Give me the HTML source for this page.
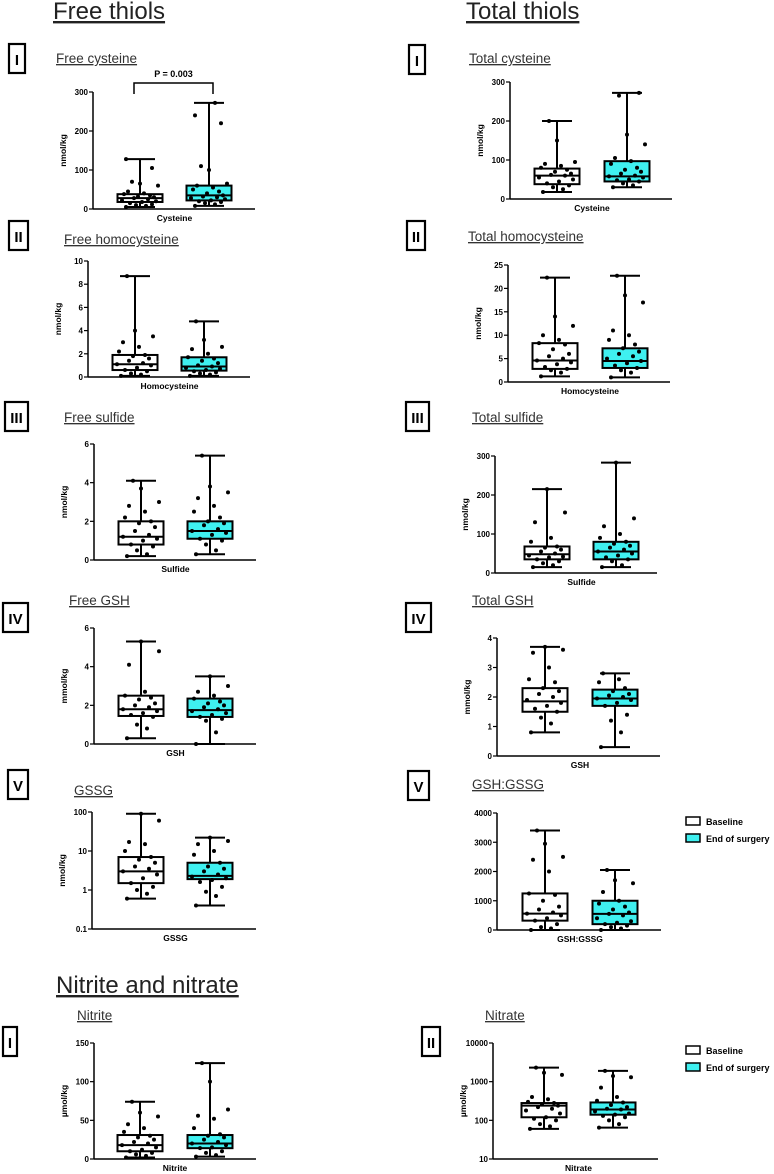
<!DOCTYPE html>
<html><head><meta charset="utf-8"><style>
body{margin:0;background:#fff;width:774px;height:1174px;overflow:hidden;font-family:"Liberation Sans",sans-serif}
svg{position:absolute;left:0;top:0}
</style></head><body>
<svg id="fig" width="774" height="1174" xmlns="http://www.w3.org/2000/svg" font-family="Liberation Sans, sans-serif">
<text x="53" y="19" font-size="24" text-decoration="underline" fill="#222">Free thiols</text>
<text x="466" y="19" font-size="24" text-decoration="underline" fill="#222">Total thiols</text>
<text x="56" y="993" font-size="24" text-decoration="underline" fill="#222">Nitrite and nitrate</text>
</svg>
<script>
const panelTitles=["Free cysteine","Free homocysteine","Free sulfide","Free GSH","GSSG","Nitrite","Total cysteine","Total homocysteine","Total sulfide","Total GSH","GSH:GSSG","Nitrate"];
const xLabels=["Cysteine","Homocysteine","Sulfide","GSH","GSSG","Nitrite","Cysteine","Homocysteine","Sulfide","GSH","GSH:GSSG","Nitrate"];
const yLabels=["nmol/kg","nmol/kg","nmol/kg","mmol/kg","nmol/kg","µmol/kg","nmol/kg","nmol/kg","nmol/kg","mmol/kg","","µmol/kg"];
const romans=["I","II","III","IV","V","I","I","II","III","IV","V","II"];
const yTicks=[[0,100,200,300],[0,2,4,6,8,10],[0,2,4,6],[0,2,4,6],[0.1,1,10,100],[0,50,100,150],[0,100,200,300],[0,5,10,15,20,25],[0,100,200,300],[0,1,2,3,4],[0,1000,2000,3000,4000],[10,100,1000,10000]];
const logScale=[false,false,false,false,true,false,false,false,false,false,false,true];
// [min,q1,median,q3,max] baseline / end of surgery
const baselineStats=[[5,18,28,38,128],[0.1,0.6,1.1,1.9,8.7],[0.2,0.8,1.2,2.0,4.1],[0.3,1.45,1.8,2.5,5.3],[0.6,1.5,3,7,90],[2,10,18,31,74],[18,38,60,78,200],[1.2,2.8,4.6,8.3,22.3],[15,35,48,68,215],[0.8,1.5,1.85,2.3,3.7],[0,320,560,1250,3400],[60,120,240,280,2300]];
const endStats=[[8,22,35,60,272],[0.1,0.55,0.9,1.7,4.8],[0.3,1.1,1.5,2.0,5.4],[0,1.4,1.75,2.35,3.5],[0.4,1.9,2.3,5,22],[3,14,20,31,124],[30,45,58,97,272],[1.0,3,4.5,7.2,22.7],[15,35,55,80,283],[0.3,1.7,1.95,2.25,2.8],[0,200,550,1000,2050],[65,140,190,290,1900]];
const baselinePts=[
[5,8,10,12,15,18,20,22,25,28,30,32,35,38,40,45,60,65,70,105,128],
[0.1,0.2,0.3,0.5,0.6,0.8,1,1.1,1.2,1.4,1.6,1.8,1.9,2.2,2.6,3,3.5,4,8.7],
[0.2,0.3,0.5,0.7,0.8,1,1.1,1.2,1.3,1.5,1.7,1.9,2,2.2,2.5,2.8,3,3.7,4.1],
[0.3,0.8,1,1.4,1.5,1.6,1.7,1.8,1.9,2,2.1,2.3,2.4,2.5,2.7,4.1,4.8,5.3],
[0.6,0.8,1,1.2,1.5,2,2.5,3,3.5,4,5,6,7,10,15,17,60,90],
[2,4,6,8,10,12,15,18,20,22,25,28,30,35,40,45,55,60,74],
[18,25,30,35,40,45,50,55,60,62,65,70,75,80,85,90,95,150,200],
[1.2,2,2.5,2.8,3.2,3.8,4.2,4.6,5,5.5,6,7,8,8.3,9,10,12,14,22.3],
[15,20,25,30,35,40,42,45,50,55,60,65,68,80,90,130,155,215],
[0.8,1.1,1.3,1.5,1.6,1.7,1.8,1.9,2,2.1,2.2,2.3,2.5,2.6,3,3.5,3.6,3.7],
[0,50,100,200,320,400,500,560,600,700,800,1000,1200,1250,2000,2400,2500,2950,3400],
[60,70,80,100,110,120,150,180,200,220,240,260,280,300,350,400,1500,1700,2300]];
const endPts=[
[8,12,15,18,20,22,25,28,30,32,35,40,45,50,55,60,65,100,110,220,240,272],
[0.1,0.2,0.3,0.4,0.5,0.6,0.7,0.8,0.9,1,1.2,1.4,1.6,1.7,2,2.4,2.6,3.2,4.8],
[0.3,0.5,0.8,1,1.1,1.3,1.4,1.5,1.6,1.8,1.9,2,2.2,2.5,2.8,3.2,3.5,3.8,5.4],
[0,0.6,1.2,1.3,1.4,1.5,1.6,1.7,1.8,1.9,2,2.1,2.2,2.35,2.5,2.7,3,3.5],
[0.4,0.7,0.9,1.2,1.6,1.8,2,2.2,2.5,3,3.5,4,5,8,10,15,18,22],
[3,5,8,10,14,15,18,20,22,25,28,30,32,40,52,56,64,100,124],
[30,35,40,45,48,50,55,58,60,65,70,75,80,90,97,105,140,165,265,272],
[1,2,2.5,3,3.5,4,4.5,5,5.5,6,6.5,7.2,8,9,10,11,17,18.5,22.7],
[15,20,30,35,40,45,50,55,60,65,70,75,80,90,100,120,140,283],
[0.3,0.8,1.2,1.4,1.7,1.8,1.9,1.95,2,2.05,2.1,2.2,2.3,2.5,2.6,2.8],
[0,50,100,150,200,250,300,400,500,550,600,700,800,900,1000,1300,1600,1700,2050],
[65,80,100,120,130,140,150,170,190,200,220,250,290,320,400,700,1300,1400,1900]];
// layout (positions only): axis x0,x1,yTop,yBottom, box centres, roman box x,y,w, title x,y
const L=[
[93,255,92,209,140,209,9,44,16,56,63],
[88,250,261,377,135,204,9,221,19,64,244],
[94,256,444,560,141,210,5,402,23,64,422],
[94,256,628,744,141,210,3,603,25,69,605],
[92,256,812,929,141,210,8,770,20,74,795],
[94,256,1043,1159,140,210,3,1027,14,77,1020],
[510,672,82,199,557,627,409,45,16,469,63],
[508,670,265,382,555,625,407,221,18,468,241],
[495,657,456,573,547,616,406,402,23,472,422],
[497,660,638,756,545,615,406,603,25,472,605],
[497,661,813,930,545,615,408,771,21,472,789],
[493,658,1043,1159,544,613,422,1027,18,485,1020]];
const jit=[-14,6,-4,12,-10,2,16,-18,8,-6,14,-2,10,-16,4,-12,18,0,-8,12,-14,6];
const NS="http://www.w3.org/2000/svg";
const svg=document.getElementById('fig');
function mk(tag,at,parent){const e=document.createElementNS(NS,tag);for(const k in at)e.setAttribute(k,at[k]);(parent||svg).appendChild(e);return e;}
for(let i=0;i<12;i++){
  const [x0,x1,yt,yb,c1,c2,rx,ry,rw,tx,ty]=L[i];
  const g=mk('g',{});
  
  
  const tks=yTicks[i];const lo=tks[0],hi=tks[tks.length-1];const lg=logScale[i];
  const ys=v=>{if(lg){const a=Math.log10(Math.max(v,lo)),b=Math.log10(lo),c=Math.log10(hi);return yb-(a-b)/(c-b)*(yb-yt);}return yb-(v-lo)/(hi-lo)*(yb-yt);};
  const rb=mk('rect',{x:rx,y:ry,width:rw,height:29,fill:'none',stroke:'#000','stroke-width':2.2},g);
  
  const rt=mk('text',{x:rx+rw/2,y:ry+21,'text-anchor':'middle','font-size':15,'font-weight':'bold'},g);rt.textContent=romans[i];
  
  const tt=mk('text',{x:tx,y:ty,'font-size':13.5,'text-decoration':'underline',fill:'#333'},g);tt.textContent=panelTitles[i];
  
  const ya=mk('line',{x1:x0,y1:yt,x2:x0,y2:yb,stroke:'#000','stroke-width':1.5},g);
  
  const xa=mk('line',{x1:x0,y1:yb,x2:x1,y2:yb,stroke:'#000','stroke-width':1.5},g);
  
  tks.forEach(t=>{const y=ys(t);mk('line',{x1:x0-4,y1:y,x2:x0,y2:y,stroke:'#000','stroke-width':1.2},g);
    const tl=mk('text',{x:x0-5,y:y+3,'text-anchor':'end','font-size':8,'font-weight':'bold'},g);tl.textContent=t;
    });
  if(yLabels[i]){const yl=mk('text',{transform:`translate(${x0-27},${(yt+yb)/2}) rotate(-90)`,'text-anchor':'middle','font-size':8.5,'font-weight':'bold'},g);yl.textContent=yLabels[i];
    }
  const xl=mk('text',{x:(c1+c2)/2,y:yb+12,'text-anchor':'middle','font-size':8.5,'font-weight':'bold'},g);xl.textContent=xLabels[i];
  
  const cs=[c1,c2];
  [[baselineStats[i],baselinePts[i],'#fff','baseline'],[endStats[i],endPts[i],'#3ff0f0','end-of-surgery']].forEach(([s,p,f,nm],k)=>{
    const c=cs[k];
    const wl=mk('line',{x1:c,y1:ys(s[0]),x2:c,y2:ys(s[4]),stroke:'#000','stroke-width':2},g);
    
    [s[0],s[4]].forEach(v=>mk('line',{x1:c-15,y1:ys(v),x2:c+15,y2:ys(v),stroke:'#000','stroke-width':2},g));
    const bx=mk('rect',{x:c-22.5,y:ys(s[3]),width:45,height:ys(s[1])-ys(s[3]),fill:f,stroke:'#000','stroke-width':2},g);
    
    mk('line',{x1:c-22.5,y1:ys(s[2]),x2:c+22.5,y2:ys(s[2]),stroke:'#000','stroke-width':2},g);
    p.forEach((v,j)=>{const d=mk('circle',{cx:c+jit[j%jit.length],cy:ys(v),r:2,fill:'#000'},g);
      });
  });
  if(i==0){mk('path',{d:`M134,94 V83 H213 V94`,fill:'none',stroke:'#000','stroke-width':1.5},g);
    const pt=mk('text',{x:173.5,y:77,'text-anchor':'middle','font-size':9,'font-weight':'bold'},g);pt.textContent='P = 0.003';
    }
}
[[817],[1046]].forEach(([y0])=>{
  const g=mk('g',{});
  [['Baseline','#fff'],['End of surgery','#3ff0f0']].forEach(([t,f],k)=>{
    mk('rect',{x:686,y:y0+k*17,width:14,height:8,fill:f,stroke:'#000','stroke-width':1.5},g);
    const tx=mk('text',{x:706,y:y0+k*17+8,'font-size':9,'font-weight':'bold'},g);tx.textContent=t;
    });
});
</script>
</body></html>
